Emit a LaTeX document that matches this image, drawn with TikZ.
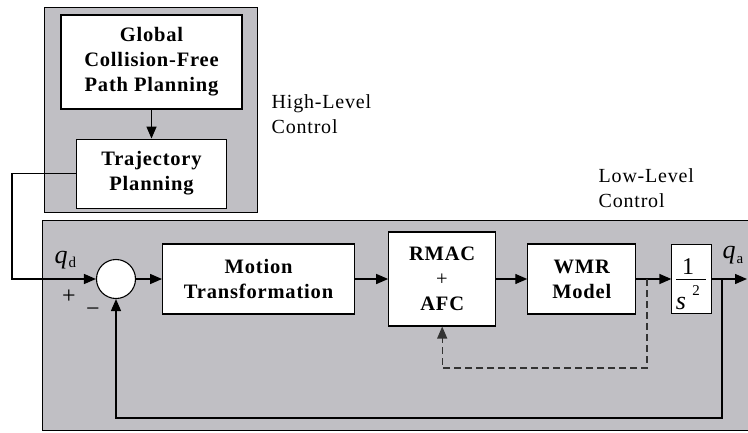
\documentclass[tikz,border=0pt]{standalone}
\usepackage{fontspec}
\setmainfont{Liberation Serif}[LetterSpace=4]
\usetikzlibrary{arrows.meta,positioning}
\definecolor{panel}{RGB}{192,191,196}

\begin{document}
\begin{tikzpicture}[x=1pt,y=-1pt,>={Triangle[length=12pt,width=10pt]},line width=1.4pt,
    block/.style={draw,fill=white,line width=1.1pt,align=center,inner sep=0pt,
                  font=\fontsize{20.5}{25}\selectfont\bfseries},
    level/.style={align=left,inner sep=0pt,anchor=north west,font=\fontsize{20}{25}\selectfont},
    sig/.style={inner sep=0pt,anchor=base west,font=\fontsize{26}{26}\selectfont\itshape},
    sign/.style={inner sep=0pt,font=\fontsize{24}{24}\selectfont}]

  \useasboundingbox (0,0) rectangle (748,432);
  \clip (0,0) rectangle (748,432);

  % high-level panel
  \draw[fill=panel,line width=0.9pt] (44,7) rectangle (257,212);
  \node[block,minimum width=181pt,minimum height=94pt] (1) at (151.5,62) {Global\\Collision-Free\\Path Planning};
  \node[block,minimum width=150pt,minimum height=69pt,below=29pt of 1] (2) {Trajectory\\Planning};
  \node[level] (hl) at (271,94) {High-Level\\Control};

  % low-level panel
  \draw[fill=panel,line width=0.9pt] (42,220) rectangle (770,430);
  \node[level] (ll) at (598,168) {Low-Level\\Control};
  \node[draw,circle,fill=white,minimum size=39pt,inner sep=0pt,line width=1.1pt] (3) at (116,279) {};
  \node[block,minimum width=192pt,minimum height=70pt,right=26pt of 3] (4) {Motion\\Transformation};
  \node[block,minimum width=107pt,minimum height=94pt,right=33pt of 4] (5) {RMAC\\\textmd{+}\\AFC};
  \node[block,minimum width=108pt,minimum height=70pt,right=31pt of 5] (6) {WMR\\Model};
  \node[block,minimum width=40pt,minimum height=69pt,right=35pt of 6] (7) {};

  % 1/s^2
  \node[sign,anchor=base] (num) at (688,274) {1};
  \node[sig,anchor=base] (den) at (681,309) {s};
  \node[sign,font=\fontsize{15}{15}\selectfont,anchor=base] (pow) at (696,295) {2};
  \draw[line width=1pt] ([xshift=5pt]7.west) -- ([xshift=-6pt]7.east);

  % signals
  \node[sig] (qd) at (54,263) {q\textup{\fontsize{15}{15}\selectfont\raisebox{-4pt}{d}}};
  \node[sig] (qa) at (722,258) {q\textup{\fontsize{15}{15}\selectfont\raisebox{-5pt}{a}}};
  \node[sign] (plus) at (69,297) {+};
  \node[sign] (minus) at (93,312) {−};

  \coordinate (out) at (747,279);
  \coordinate (tap) at (722,279);
  \coordinate (dtap) at (647,279);

  \draw[->] (1) -- (2);
  \draw[->] (2.west) -- ++(-64,0) |- (3.west);
  \draw[->] (3) -- (4);
  \draw[->] (4) -- (5);
  \draw[->] (5) -- (6);
  \draw[->] (6) -- (7);
  \draw[->] (7) -- (out);
  \draw[->] (tap) -- ++(0,139) -| (3.south);
  \draw[->,dashed,dash pattern=on 7pt off 4pt,draw=black!80,line width=1.2pt] (dtap) -- ++(0,89) -| (5.south);
\end{tikzpicture}
\end{document}
